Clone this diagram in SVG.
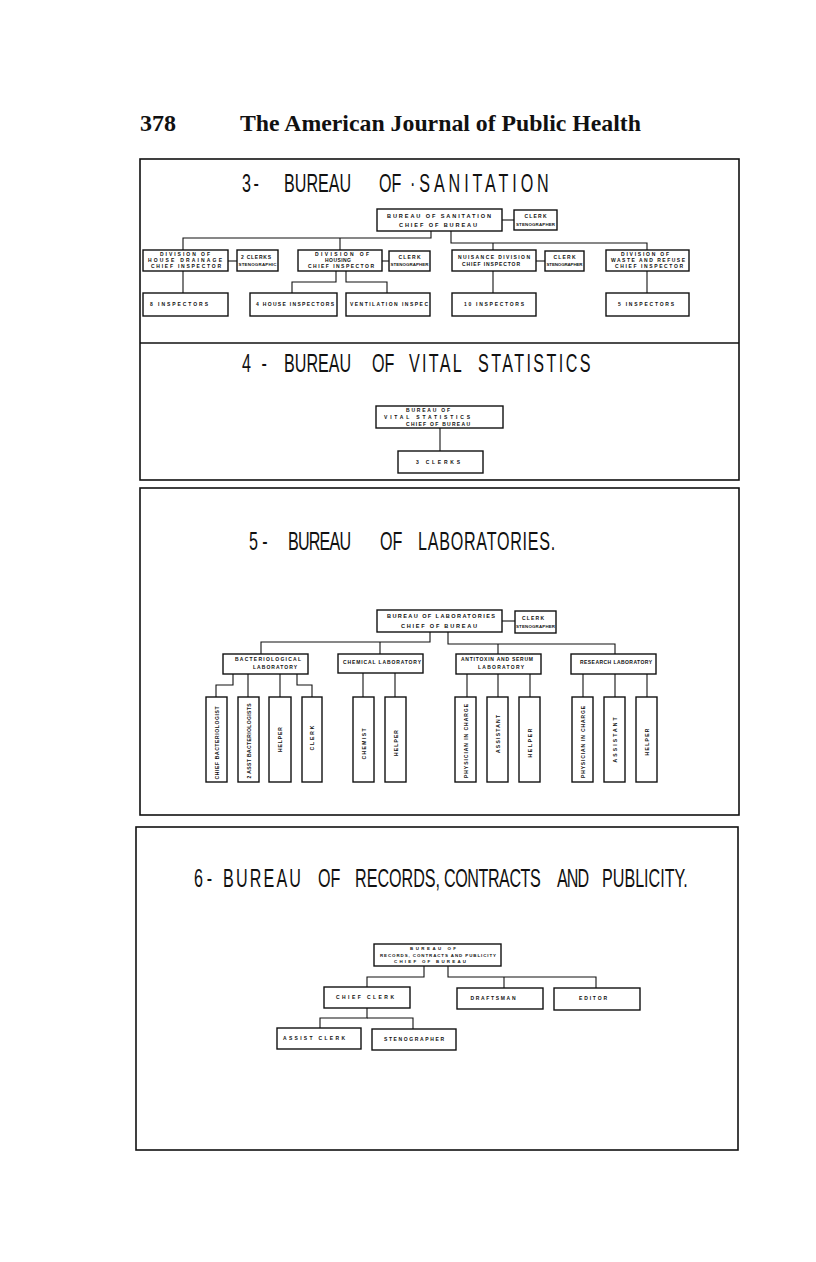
<svg xmlns="http://www.w3.org/2000/svg" width="816" height="1262" viewBox="0 0 816 1262">
<style>
.bg{fill:#ffffff}
.panel{fill:none;stroke:#111;stroke-width:1.6}
.box rect{fill:#fff;stroke:#111;stroke-width:1.4}
.conn path{fill:none;stroke:#111;stroke-width:1.1}
.hdr{font-family:"Liberation Serif",serif;font-weight:bold;font-size:23px;fill:#111}
.ttl{font-family:"Liberation Sans",sans-serif;font-size:26px;fill:#111}
.t{font-family:"Liberation Sans",sans-serif;font-weight:bold;font-size:5px;fill:#111;text-anchor:middle}
.s{font-size:4.4px}
.m{font-size:5.6px}
</style>
<rect class="bg" x="0" y="0" width="816" height="1262"/>

<g id="header">
<text class="hdr" x="140" y="131" textLength="36" lengthAdjust="spacingAndGlyphs">378</text>
<text class="hdr" x="240" y="131" textLength="401" lengthAdjust="spacingAndGlyphs">The American Journal of Public Health</text>
</g>

<g id="panels">
<rect class="panel" x="140" y="159" width="599" height="321"/>
<line class="panel" x1="140" y1="343" x2="739" y2="343"/>
<rect class="panel" x="140" y="488" width="599" height="327"/>
<rect class="panel" x="136" y="827" width="602" height="323"/>
</g>

<g id="titles">
<text class="ttl" transform="translate(0,192) scale(0.62,1)"><tspan x="390.3" letter-spacing="4">3-</tspan><tspan x="458.1">BUREAU</tspan><tspan x="611.3">OF</tspan><tspan x="661.3" letter-spacing="6.3">·SANITATION</tspan></text>
<text class="ttl" transform="translate(0,372) scale(0.62,1)"><tspan x="390.3" letter-spacing="5">4 -</tspan><tspan x="458.1">BUREAU</tspan><tspan x="600">OF</tspan><tspan x="659.7" letter-spacing="3.7">VITAL</tspan><tspan x="771" letter-spacing="3.9">STATISTICS</tspan></text>
<text class="ttl" transform="translate(0,550) scale(0.62,1)"><tspan x="401.6" letter-spacing="7">5-</tspan><tspan x="464.5" letter-spacing="-1.3">BUREAU</tspan><tspan x="612.9">OF</tspan><tspan x="674.2" letter-spacing="1.2">LABORATORIES.</tspan></text>
<text class="ttl" transform="translate(0,887) scale(0.62,1)"><tspan x="312.9" letter-spacing="6">6-</tspan><tspan x="359.7" letter-spacing="3.5">BUREAU</tspan><tspan x="512.9">OF</tspan><tspan x="572.6">RECORDS,</tspan><tspan x="716.1" letter-spacing="-0.7">CONTRACTS</tspan><tspan x="898.4" letter-spacing="-1.5">AND</tspan><tspan x="971">PUBLICITY.</tspan></text>
</g>

<g id="connectors" class="conn">
<path d="M502,220 H514"/>
<path d="M431,231 V238 H183 V250"/>
<path d="M340,238 V250"/>
<path d="M451,231 V243 H647 V250"/>
<path d="M493,243 V250"/>
<path d="M228,261 H237"/>
<path d="M382,261 H389"/>
<path d="M536,261 H545"/>
<path d="M183,271 V293"/>
<path d="M336,271 V282 H292 V293"/>
<path d="M346,271 V282 H387 V293"/>
<path d="M493,271 V293"/>
<path d="M647,271 V293"/>
<path d="M440,428 V451"/>
<path d="M502,621 H515"/>
<path d="M430,632 V642 H261 V654"/>
<path d="M380,642 V654"/>
<path d="M448,632 V644 H615 V654"/>
<path d="M498,644 V654"/>
<path d="M233,674 V685 H216 V697"/>
<path d="M248,674 V697"/>
<path d="M280,674 V697"/>
<path d="M297,674 V685 H312 V697"/>
<path d="M363,673 V697"/>
<path d="M395,673 V697"/>
<path d="M467,674 V697"/>
<path d="M498,674 V697"/>
<path d="M530,674 V697"/>
<path d="M583,674 V697"/>
<path d="M615,674 V697"/>
<path d="M647,674 V697"/>
<path d="M424,966 V977 H367 V987"/>
<path d="M448,966 V977 H596 V988"/>
<path d="M504,977 V988"/>
<path d="M367,1008 V1018 H320 V1028"/>
<path d="M367,1018 H413 V1029"/>
</g>

<g id="san_bureau" class="box"><rect x="377" y="209" width="125" height="22"/>
<text class="t m" x="439" y="217.5" textLength="104" lengthAdjust="spacing">BUREAU OF SANITATION</text><text class="t m" x="438" y="227" textLength="78" lengthAdjust="spacing">CHIEF OF BUREAU</text></g>
<g id="san_clerk" class="box"><rect x="514" y="210" width="43" height="20"/>
<text class="t" x="535.5" y="218" textLength="22" lengthAdjust="spacing">CLERK</text><text class="t s" x="535.5" y="226" textLength="39" lengthAdjust="spacing">STENOGRAPHER</text></g>
<g id="san_drainage" class="box"><rect x="143" y="250" width="85" height="21"/>
<text class="t" x="185" y="256" textLength="50" lengthAdjust="spacing">DIVISION OF</text><text class="t" x="185" y="262" textLength="74" lengthAdjust="spacing">HOUSE DRAINAGE</text><text class="t" x="186" y="268" textLength="70" lengthAdjust="spacing">CHIEF INSPECTOR</text></g>
<g id="san_drainage_clerks" class="box"><rect x="237" y="250" width="41" height="21"/>
<text class="t" x="256" y="259" textLength="30" lengthAdjust="spacing">2 CLERKS</text><text class="t s" x="257.5" y="266" textLength="38" lengthAdjust="spacing">STENOGRAPHIC</text></g>
<g id="san_housing" class="box"><rect x="298" y="250" width="84" height="21"/>
<text class="t" x="342" y="256" textLength="54" lengthAdjust="spacing">DIVISION OF</text><text class="t" x="338" y="262" textLength="26" lengthAdjust="spacing">HOUSING</text><text class="t" x="341" y="268" textLength="66" lengthAdjust="spacing">CHIEF INSPECTOR</text></g>
<g id="san_housing_clerk" class="box"><rect x="389" y="251" width="41" height="20"/>
<text class="t" x="409.5" y="259" textLength="22" lengthAdjust="spacing">CLERK</text><text class="t s" x="409.5" y="266" textLength="38" lengthAdjust="spacing">STENOGRAPHER</text></g>
<g id="san_nuisance" class="box"><rect x="452" y="250" width="84" height="21"/>
<text class="t" x="494" y="259" textLength="72" lengthAdjust="spacing">NUISANCE DIVISION</text><text class="t" x="491" y="266" textLength="58" lengthAdjust="spacing">CHIEF INSPECTOR</text></g>
<g id="san_nuisance_clerk" class="box"><rect x="545" y="251" width="39" height="20"/>
<text class="t" x="564.5" y="259" textLength="22" lengthAdjust="spacing">CLERK</text><text class="t s" x="564.5" y="266" textLength="36" lengthAdjust="spacing">STENOGRAPHER</text></g>
<g id="san_waste" class="box"><rect x="606" y="250" width="83" height="21"/>
<text class="t" x="645" y="256" textLength="48" lengthAdjust="spacing">DIVISION OF</text><text class="t" x="648" y="262" textLength="74" lengthAdjust="spacing">WASTE AND REFUSE</text><text class="t" x="649" y="268" textLength="68" lengthAdjust="spacing">CHIEF INSPECTOR</text></g>
<g id="san_8insp" class="box"><rect x="143" y="293" width="85" height="23"/>
<text class="t" x="179" y="306" textLength="58" lengthAdjust="spacing">8 INSPECTORS</text></g>
<g id="san_4house" class="box"><rect x="250" y="293" width="87" height="23"/>
<text class="t" x="295" y="306" textLength="78" lengthAdjust="spacing">4 HOUSE INSPECTORS</text></g>
<g id="san_vent" class="box"><rect x="346" y="293" width="84" height="23"/>
<text class="t" x="389" y="306" textLength="78" lengthAdjust="spacing">VENTILATION INSPEC</text></g>
<g id="san_10insp" class="box"><rect x="452" y="293" width="84" height="23"/>
<text class="t" x="494" y="306" textLength="60" lengthAdjust="spacing">10 INSPECTORS</text></g>
<g id="san_5insp" class="box"><rect x="606" y="293" width="83" height="23"/>
<text class="t" x="646" y="306" textLength="56" lengthAdjust="spacing">5 INSPECTORS</text></g>

<g id="vs_bureau" class="box"><rect x="376" y="406" width="127" height="22"/>
<text class="t" x="428" y="412" textLength="44" lengthAdjust="spacing">BUREAU OF</text><text class="t" x="427" y="419" textLength="86" lengthAdjust="spacing">VITAL STATISTICS</text><text class="t" x="438" y="425.5" textLength="64" lengthAdjust="spacing">CHIEF OF BUREAU</text></g>
<g id="vs_clerks" class="box"><rect x="398" y="451" width="85" height="22"/>
<text class="t" x="438" y="464" textLength="44" lengthAdjust="spacing">3 CLERKS</text></g>

<g id="lab_bureau" class="box"><rect x="377" y="610" width="125" height="22"/>
<text class="t m" x="441" y="618" textLength="108" lengthAdjust="spacing">BUREAU OF LABORATORIES</text><text class="t m" x="439" y="628" textLength="76" lengthAdjust="spacing">CHIEF OF BUREAU</text></g>
<g id="lab_clerk" class="box"><rect x="515" y="611" width="41" height="22"/>
<text class="t" x="533" y="620" textLength="22" lengthAdjust="spacing">CLERK</text><text class="t s" x="535.5" y="628" textLength="39" lengthAdjust="spacing">STENOGRAPHER</text></g>
<g id="lab_bact" class="box"><rect x="223" y="654" width="85" height="20"/>
<text class="t" x="268" y="661" textLength="66" lengthAdjust="spacing">BACTERIOLOGICAL</text><text class="t" x="275" y="669" textLength="44" lengthAdjust="spacing">LABORATORY</text></g>
<g id="lab_chem" class="box"><rect x="338" y="654" width="85" height="19"/>
<text class="t" x="382" y="664" textLength="78" lengthAdjust="spacing">CHEMICAL LABORATORY</text></g>
<g id="lab_anti" class="box"><rect x="456" y="654" width="85" height="20"/>
<text class="t" x="497" y="661" textLength="72" lengthAdjust="spacing">ANTITOXIN AND SERUM</text><text class="t" x="501" y="669" textLength="46" lengthAdjust="spacing">LABORATORY</text></g>
<g id="lab_res" class="box"><rect x="571" y="654" width="85" height="20"/>
<text class="t" x="616" y="664" textLength="72" lengthAdjust="spacing">RESEARCH LABORATORY</text></g>

<g id="lab_chief_bact" class="box"><rect x="206" y="697" width="21" height="85"/>
<text class="t" transform="translate(218.5,743) rotate(-90)" textLength="73" lengthAdjust="spacing">CHIEF BACTERIOLOGIST</text></g>
<g id="lab_asst_bact" class="box"><rect x="238" y="697" width="21" height="85"/>
<text class="t" transform="translate(250.5,741) rotate(-90)" textLength="75" lengthAdjust="spacing">2 ASST BACTERIOLOGISTS</text></g>
<g id="lab_bact_helper" class="box"><rect x="269" y="697" width="22" height="85"/>
<text class="t" transform="translate(282,739.5) rotate(-90)" textLength="25" lengthAdjust="spacing">HELPER</text></g>
<g id="lab_bact_clerk" class="box"><rect x="302" y="697" width="20" height="85"/>
<text class="t" transform="translate(314,738) rotate(-90)" textLength="25" lengthAdjust="spacing">CLERK</text></g>
<g id="lab_chemist" class="box"><rect x="353" y="697" width="21" height="85"/>
<text class="t" transform="translate(365.5,744) rotate(-90)" textLength="31" lengthAdjust="spacing">CHEMIST</text></g>
<g id="lab_chem_helper" class="box"><rect x="385" y="697" width="21" height="85"/>
<text class="t" transform="translate(397.5,743) rotate(-90)" textLength="26" lengthAdjust="spacing">HELPER</text></g>
<g id="lab_anti_phys" class="box"><rect x="455" y="697" width="21" height="85"/>
<text class="t" transform="translate(467.5,741) rotate(-90)" textLength="74" lengthAdjust="spacing">PHYSICIAN IN CHARGE</text></g>
<g id="lab_anti_asst" class="box"><rect x="487" y="697" width="21" height="85"/>
<text class="t" transform="translate(499.5,734) rotate(-90)" textLength="38" lengthAdjust="spacing">ASSISTANT</text></g>
<g id="lab_anti_helper" class="box"><rect x="519" y="697" width="21" height="85"/>
<text class="t" transform="translate(531.5,743) rotate(-90)" textLength="29" lengthAdjust="spacing">HELPER</text></g>
<g id="lab_res_phys" class="box"><rect x="572" y="697" width="21" height="85"/>
<text class="t" transform="translate(584.5,742) rotate(-90)" textLength="72" lengthAdjust="spacing">PHYSICIAN IN CHARGE</text></g>
<g id="lab_res_asst" class="box"><rect x="604" y="697" width="21" height="85"/>
<text class="t" transform="translate(616.5,740) rotate(-90)" textLength="45" lengthAdjust="spacing">ASSISTANT</text></g>
<g id="lab_res_helper" class="box"><rect x="636" y="697" width="21" height="85"/>
<text class="t" transform="translate(648.5,742) rotate(-90)" textLength="27" lengthAdjust="spacing">HELPER</text></g>

<g id="rec_bureau" class="box"><rect x="374" y="944" width="127" height="22"/>
<text class="t s" x="433" y="950" textLength="46" lengthAdjust="spacing">BUREAU OF</text><text class="t s" x="438" y="956.5" textLength="116" lengthAdjust="spacing">RECORDS, CONTRACTS AND PUBLICITY</text><text class="t s" x="430" y="963" textLength="72" lengthAdjust="spacing">CHIEF OF BUREAU</text></g>
<g id="rec_chief_clerk" class="box"><rect x="324" y="987" width="86" height="21"/>
<text class="t" x="365" y="999" textLength="58" lengthAdjust="spacing">CHIEF CLERK</text></g>
<g id="rec_draftsman" class="box"><rect x="457" y="988" width="86" height="21"/>
<text class="t" x="493" y="1000" textLength="45" lengthAdjust="spacing">DRAFTSMAN</text></g>
<g id="rec_editor" class="box"><rect x="554" y="988" width="86" height="22"/>
<text class="t" x="593" y="1000" textLength="28" lengthAdjust="spacing">EDITOR</text></g>
<g id="rec_assist_clerk" class="box"><rect x="277" y="1028" width="84" height="21"/>
<text class="t" x="314" y="1040" textLength="62" lengthAdjust="spacing">ASSIST CLERK</text></g>
<g id="rec_steno" class="box"><rect x="372" y="1029" width="84" height="21"/>
<text class="t" x="414" y="1041" textLength="60" lengthAdjust="spacing">STENOGRAPHER</text></g>
</svg>
